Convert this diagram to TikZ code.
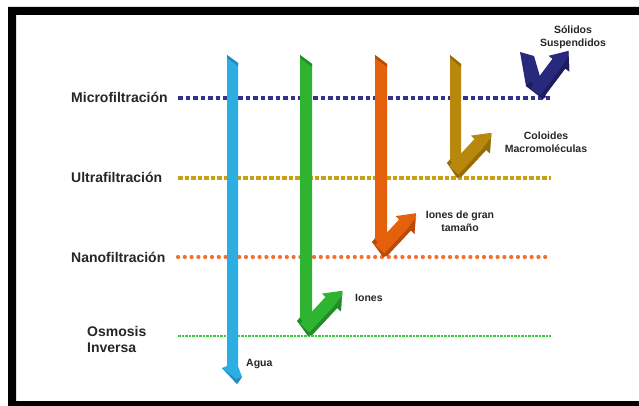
\documentclass[tikz,border=0pt]{standalone}
\usepackage{fontspec}
\setmainfont{Liberation Sans}
\begin{document}
\begin{tikzpicture}[x=1pt,y=-1pt,
  biglabel/.style={font=\bfseries\fontsize{14}{16}\selectfont, inner sep=0pt, anchor=base west, text=black!85},
  smalllabel/.style={font=\bfseries\fontsize{10.5}{13}\selectfont, inner sep=0pt, anchor=base, align=center, text=black!85},
  microline/.style={draw=cNavyL, line width=4.5pt, dash pattern=on 4.5pt off 3pt},
  ultraline/.style={draw=cGoldL, line width=4pt, dash pattern=on 4.5pt off 2pt},
  nanoline/.style={draw=cOrangeL, line width=4.2pt, line cap=round, dash pattern=on 0pt off 6.8pt},
  osmoline/.style={draw=cGreenL, line width=2.8pt, dash pattern=on 2.5pt off 1pt},
]
\definecolor{cNavyL}{RGB}{52,50,140}
\definecolor{cGoldL}{RGB}{200,160,20}
\definecolor{cOrangeL}{RGB}{240,112,50}
\definecolor{cGreenL}{RGB}{60,200,60}
\definecolor{cBlue}{RGB}{44,174,226}
\definecolor{cBlueD}{RGB}{30,140,190}
\definecolor{cGreen}{RGB}{46,180,48}
\definecolor{cGreenD}{RGB}{34,140,40}
\definecolor{cOrange}{RGB}{228,96,10}
\definecolor{cOrangeD}{RGB}{186,74,8}
\definecolor{cGold}{RGB}{184,136,12}
\definecolor{cGoldD}{RGB}{150,108,8}
\definecolor{cNavy}{RGB}{40,40,125}
\definecolor{cNavyD}{RGB}{28,28,95}

\useasboundingbox (0,0) rectangle (639,406);
\fill[white] (0,0) rectangle (639,406);
% frame
\fill[black, even odd rule] (8,7) rectangle (650,415) (16,15) rectangle (650,401);

% filter lines
\coordinate (m1) at (178,98);  \coordinate (m2) at (551,98);
\coordinate (u1) at (178,178); \coordinate (u2) at (551,178);
\coordinate (n1) at (178,257); \coordinate (n2) at (551,257);
\coordinate (o1) at (178,336); \coordinate (o2) at (551,336);
\draw[microline] (m1) -- (m2);
\draw[ultraline] (u1) -- (u2);
\draw[nanoline] (n1) -- (n2);
\draw[osmoline] (o1) -- (o2);

% left labels
\node[biglabel] (lm) at (71,103) {Microfiltración};
\node[biglabel] (lu) at (71,182.5) {Ultrafiltración};
\node[biglabel] (ln) at (71,262) {Nanofiltración};
\node[biglabel] (lo1) at (87,336.5) {Osmosis};
\node[biglabel] (lo2) at (87,352.5) {Inversa};

% diagonal reject arrow: #1 tip coordinate, #2 angle, #3 shaft length, #4 color, #5 dark color
\newcommand\rejarrow[5]{%
  \begin{scope}[shift={#1}, rotate=#2]
    \fill[#4] (0,0) -- (#3,0) -- (#3,5) -- ({#3+16},-8) -- (#3,-21) -- (#3,-16) -- (0,-16) -- cycle;
    \fill[#5] (0,0) -- (#3,0) -- (#3,5) -- ({#3+16},-8) -- ({#3+13},-5) -- ({#3-2},-3.5) -- (0,-3.5) -- cycle;
  \end{scope}}

% blue (Agua)
\fill[cBlue] (227,55) -- (238,63) -- (238,366) -- (242,377) -- (237,384) -- (222,368) -- (227,366) -- cycle;
\fill[cBlueD] (227,55) -- (238,63) -- (238,66) -- (227,58) -- cycle;
\fill[cBlueD] (222,368) -- (237,384) -- (242,377) -- (236,379) -- cycle;

% green (Iones)
\fill[cGreen] (300,55) -- (312,64) -- (312,335) -- (297,321) -- (300,317) -- cycle;
\fill[cGreenD] (300,55) -- (312,64) -- (312,67) -- (300,58) -- cycle;
\fill[cGreenD] (297,321) -- (308,336) -- (312,335) -- (300,318) -- cycle;
\rejarrow{(312,335)}{47}{37}{cGreen}{cGreenD}

% orange (Iones de gran tamaño)
\fill[cOrange] (375,55) -- (387,64) -- (387,256) -- (372,242) -- (375,238) -- cycle;
\fill[cOrangeD] (375,55) -- (387,64) -- (387,67) -- (375,58) -- cycle;
\fill[cOrangeD] (372,242) -- (383,257) -- (387,256) -- (375,239) -- cycle;
\rejarrow{(387,256)}{47}{35}{cOrange}{cOrangeD}

% gold (Coloides)
\fill[cGold] (450,55) -- (461,64) -- (461,177) -- (447,163) -- (450,159) -- cycle;
\fill[cGoldD] (450,55) -- (461,64) -- (461,67) -- (450,58) -- cycle;
\fill[cGoldD] (447,163) -- (457,178) -- (461,177) -- (450,160) -- cycle;
\rejarrow{(461,177)}{47}{37}{cGold}{cGoldD}

% navy (Sólidos suspendidos)
\fill[cNavy] (520,52) -- (534,56) -- (546,97) -- (543,99) -- (526,86) -- cycle;
\fill[cNavyD] (526,86) -- (543,99) -- (538,86) -- (530,82) -- cycle;
\rejarrow{(543,98)}{53}{37}{cNavy}{cNavyD}

% right labels (base = last line)
\node[smalllabel] (ls) at (573,46.5) {Sólidos\\Suspendidos};
\node[smalllabel] (lc) at (546,152.5) {Coloides\\Macromoléculas};
\node[smalllabel] (li) at (460,231) {Iones de gran\\tamaño};
\node[smalllabel, anchor=base west] (lio) at (355,301.5) {Iones};
\node[smalllabel, anchor=base west] (la) at (246,366.5) {Agua};
\end{tikzpicture}
\end{document}
